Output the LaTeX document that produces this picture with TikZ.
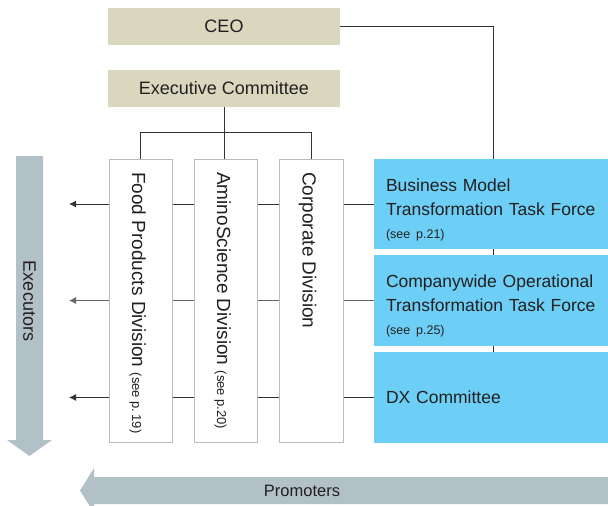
\documentclass[tikz,border=0pt]{standalone}
\usepackage{fontspec}
\setmainfont{Liberation Sans}
\usetikzlibrary{arrows.meta,backgrounds}
\definecolor{beige}{HTML}{D9D8BE}
\definecolor{skyb}{HTML}{6DCFF6}
\definecolor{arrgray}{HTML}{B2C0C8}
\definecolor{txt}{HTML}{231F20}
\definecolor{divline}{HTML}{BBBBBB}
\definecolor{conn}{HTML}{333333}
\tikzset{
  topbox/.style={fill=beige, draw=none, minimum width=232, minimum height=37, inner sep=0, text=txt, font=\fontsize{18}{22}\selectfont},
  divbox/.style={fill=white, draw=divline, line width=1pt, minimum width=63, minimum height=283, inner sep=0},
  divtext/.style={rotate=-90, anchor=base west, inner sep=0, text=txt, font=\fontsize{19}{22}\selectfont},
  bluebox/.style={fill=skyb, draw=none, minimum width=234, minimum height=90, text width=210, inner xsep=12, inner ysep=0, align=left, text=txt, font=\fontsize{17.5}{24}\selectfont},
  connline/.style={draw=conn, line width=1pt},
  rowarrow/.style={connline, -{Latex[length=7,width=7]}},
  bigarrow/.style={fill=arrgray, draw=none},
  arrtext/.style={inner sep=0, text=txt}
}
\begin{document}
\begin{tikzpicture}[x=1pt,y=-1pt]
\useasboundingbox (0,0) rectangle (608,506);
\clip (0,0) rectangle (608,506);

% big arrows
\fill[bigarrow] (16,156) -- (43,156) -- (43,440) -- (52,440) -- (29.5,456) -- (7,440) -- (16,440) -- cycle;
\node[arrtext, rotate=-90, font=\fontsize{18}{22}\selectfont] (exect) at (29.5,301) {Executors};
\fill[bigarrow] (608,477) -- (94,477) -- (94,468) -- (80,490.5) -- (94,513) -- (94,504) -- (608,504) -- cycle;
\node[arrtext, font=\fontsize{16.5}{20}\selectfont] (promt) at (302,491) {Promoters};

% top boxes
\node[topbox] (ceo) at (224,26.5) {CEO};
\node[topbox] (exec) at (224,88.5) {Executive Committee};

% division boxes
\node[divbox] (food) at (140.5,300.5) {};
\node[divbox] (amino) at (225.5,300.5) {};
\node[divbox, minimum width=64] (corp) at (311,300.5) {};
\node[divtext] (foodt) at (132,172) {Food Products Division {\fontsize{13}{15}\selectfont(see p.\,19)}};
\node[divtext] (aminot) at (217,172) {AminoScience Division {\fontsize{13}{15}\selectfont(see p.20)}};
\node[divtext] (corpt) at (302.5,172) {Corporate Division};

% blue boxes
\node[bluebox] (bm) at (491,204) {\rule{0pt}{24pt}Business Model\\Transformation Task Force\\[-1pt]{\fontsize{12.5}{15}\selectfont (see p.21)}};
\node[bluebox, minimum height=91] (co) at (491,300.5) {\rule{0pt}{24pt}Companywide Operational\\Transformation Task Force\\[-1pt]{\fontsize{12.5}{15}\selectfont (see p.25)}};
\node[bluebox, minimum height=91] (dx) at (491,397.5) {DX Committee};

% coordinates
\coordinate (ceoturn) at (493,26.5);
\coordinate (bary) at (0,132);
\coordinate (a1) at (69,204);
\coordinate (a2) at (69,300.5);
\coordinate (a3) at (69,397.5);

\begin{scope}[on background layer]
  \draw[connline] (ceo.east) -- (ceoturn) -- (ceoturn |- dx.north);
  \draw[connline] (exec.south) -- (exec.south |- amino.north);
  \draw[connline] (food.north) -- (food.north |- bary) -- (corp.north |- bary) -- (corp.north);
  \draw[rowarrow] (bm.west) -- (a1);
  \draw[rowarrow, draw=conn!75] (co.west) -- (a2);
  \draw[rowarrow] (dx.west) -- (a3);
\end{scope}
\end{tikzpicture}
\end{document}
